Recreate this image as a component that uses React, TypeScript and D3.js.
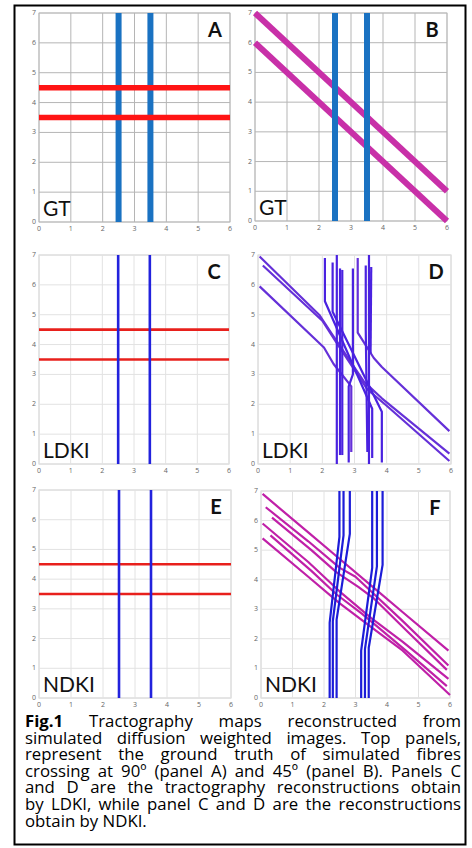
import React, { useEffect, useRef } from "react";
import * as d3 from "d3";

const W = 472;
const H = 848;

const xTicks = [0, 1, 2, 3, 4, 5, 6];
const yTicks = [0, 1, 2, 3, 4, 5, 6, 7];

type Pt = [number, number];

// Panel A – ground truth 90°
const gtVerticalA: Pt[][] = [
  [[2.5, 0], [2.5, 7]],
  [[3.5, 0], [3.5, 7]],
];
const gtHorizontalA: Pt[][] = [
  [[0, 4.5], [6, 4.5]],
  [[0, 3.5], [6, 3.5]],
];
// Panel B – ground truth 45°
const gtDiagonalB: Pt[][] = [
  [[0, 7], [6, 1]],
  [[0, 6], [6, 0]],
];
const gtVerticalB: Pt[][] = [
  [[2.5, 0], [2.5, 7]],
  [[3.5, 0], [3.5, 7]],
];
// Panel C – LDKI 90°
const ldkiHorizontalC: Pt[][] = [
  [[0, 4.5], [6, 4.5]],
  [[0, 3.5], [6, 3.5]],
];
const ldkiVerticalC: Pt[][] = [
  [[2.5, 0], [2.5, 7]],
  [[3.5, 0], [3.5, 7]],
];
// Panel D – LDKI 45°
const ldkiDiagonalD: Pt[][] = [
  [[0.05, 6.95], [1.9, 5.0], [2.3, 4.35], [3.3, 2.75], [3.85, 2.2], [5.95, 0.35]],
  [[0.15, 6.65], [2.0, 4.8], [2.45, 4.05], [3.4, 2.5], [4.0, 1.95], [5.95, 0.1]],
  [[0.05, 5.95], [2.05, 3.9], [2.35, 3.35], [2.9, 2.6], [2.9, 0.4]],
  [[3.1, 6.9], [3.1, 4.4], [3.6, 3.55], [3.85, 3.25], [5.95, 1.1]],
];
const ldkiVerticalD: Pt[][] = [
  [[2.08, 6.9], [2.08, 5.45], [3.55, 1.85], [3.55, 0.2]],
  [[2.32, 6.75], [2.32, 5.1], [3.85, 1.75], [3.85, 0.05]],
  [[2.45, 7.0], [2.45, 0.0]],
  [[2.55, 6.55], [2.55, 0.3]],
  [[2.62, 6.5], [2.62, 0.3]],
  [[2.95, 6.55], [2.95, 3.0], [2.82, 2.6], [2.82, 0.05]],
  [[3.35, 6.65], [3.35, 4.5], [3.4, 0.4]],
  [[3.45, 7.0], [3.45, 0.0]],
  [[3.52, 6.6], [3.5, 3.7]],
];
// Panel E – NDKI 90°
const ndkiHorizontalE: Pt[][] = [
  [[0, 4.5], [6, 4.5]],
  [[0, 3.5], [6, 3.5]],
];
const ndkiVerticalE: Pt[][] = [
  [[2.5, 0], [2.5, 7]],
  [[3.5, 0], [3.5, 7]],
];
// Panel F – NDKI 45°
const ndkiDiagonalF: Pt[][] = [
  [[0.05, 6.9], [1.5, 5.6], [2.5, 4.7], [3.5, 3.8], [4.5, 2.9], [5.95, 1.6]],
  [[0.15, 6.45], [1.5, 5.3], [2.5, 4.4], [3.0, 4.1], [3.5, 3.6], [4.5, 2.6], [5.95, 1.1]],
  [[0.35, 6.1], [1.6, 5.0], [2.4, 4.25], [3.1, 3.75], [3.6, 3.35], [4.6, 2.3], [5.9, 0.95]],
  [[0.05, 5.9], [1.5, 4.6], [2.5, 3.6], [3.5, 2.7], [4.5, 1.9], [5.95, 0.65]],
  [[0.3, 5.5], [1.6, 4.3], [2.4, 3.5], [3.2, 2.85], [3.6, 2.5], [4.6, 1.6], [5.9, 0.4]],
  [[0.05, 5.4], [1.5, 4.1], [2.5, 3.2], [3.5, 2.4], [4.5, 1.6], [6.0, 0.1]],
];
const ndkiVerticalF: Pt[][] = [
  [[2.49, 7], [2.49, 5.45], [2.18, 2.55], [2.18, 0]],
  [[2.62, 7], [2.62, 5.5], [2.28, 2.6], [2.28, 0]],
  [[2.82, 7], [2.82, 5.55], [2.4, 2.65], [2.4, 0]],
  [[3.53, 7], [3.53, 4.4], [3.18, 1.6], [3.18, 0]],
  [[3.68, 7], [3.68, 4.45], [3.3, 1.65], [3.3, 0]],
  [[3.86, 7], [3.86, 4.5], [3.42, 1.7], [3.42, 0]],
];

const captionBold = "Fig.1";
const captionLines = [
  " Tractography maps reconstructed from",
  "simulated diffusion weighted images. Top panels,",
  "represent the ground truth of simulated fibres",
  "crossing at 90º (panel A) and 45º (panel B). Panels C",
  "and D are the tractography reconstructions obtain",
  "by LDKI, while panel C and D are the reconstructions",
  "obtain by NDKI.",
];

type Series = { lines: Pt[][]; color: string; width: number };
type Frame = { x0: number; x1: number; yT: number; yB: number };

const FONT = "'Open Sans', 'Noto Sans', sans-serif";
const LBL_FONT = "Lato, 'Open Sans', sans-serif";
const CAP_FONT = "'Open Sans', 'Noto Sans', sans-serif";

function Panel({
  f,
  grid,
  series,
  letter,
  method,
}: {
  f: Frame;
  grid: string;
  series: Series[];
  letter: string;
  method: string;
}) {
  const x = d3.scaleLinear().domain([0, 6]).range([f.x0, f.x1]);
  const y = d3.scaleLinear().domain([0, 7]).range([f.yB, f.yT]);
  const line = d3
    .line<Pt>()
    .x((d) => x(d[0]))
    .y((d) => y(d[1]));
  return (
    <g>
      <rect x={f.x0} y={f.yT} width={f.x1 - f.x0} height={f.yB - f.yT} fill="#fff" stroke="#cfcfcf" strokeWidth={1} />
      {xTicks.map((t) => (
        <line key={"gx" + t} x1={x(t)} x2={x(t)} y1={f.yT} y2={f.yB} stroke={grid} strokeWidth={1} />
      ))}
      {yTicks.map((t) => (
        <line key={"gy" + t} x1={f.x0} x2={f.x1} y1={y(t)} y2={y(t)} stroke={grid} strokeWidth={1} />
      ))}
      {xTicks.map((t) => (
        <text key={"tx" + t} x={x(t)} y={f.yB + 9} fontSize={7} fill="#666" textAnchor="middle" fontFamily={FONT}>
          {t}
        </text>
      ))}
      {yTicks.map((t) => (
        <text key={"ty" + t} x={f.x0 - 3} y={y(t) + 2} fontSize={7} fill="#666" textAnchor="end" fontFamily={FONT}>
          {t}
        </text>
      ))}
      {series.map((s, i) =>
        s.lines.map((l, j) => (
          <path
            key={i + "-" + j}
            d={line(l) || ""}
            fill="none"
            stroke={s.color}
            strokeWidth={s.width}
            strokeLinejoin="round"
          />
        ))
      )}
      <text x={f.x1 - 15} y={f.yT + 24} fontSize={20} fontWeight="bold" textAnchor="middle" fontFamily={LBL_FONT} fill="#111">
        {letter}
      </text>
      <text x={f.x0 + 4} y={f.yB - 6} fontSize={21} fontFamily={LBL_FONT} fill="#111">
        {method}
      </text>
    </g>
  );
}

function Caption() {
  const left = 25;
  const right = 461;
  const top = 727;
  const lh = 16.6;
  const size = 16.8;
  const boldRef = useRef<SVGTextElement | null>(null);
  const refs = useRef<(SVGTextElement | null)[]>([]);
  useEffect(() => {
    const justify = () => {
      const boldLen = boldRef.current ? boldRef.current.getComputedTextLength() : 0;
      refs.current.forEach((el, i) => {
        if (!el) return;
        if (i === captionLines.length - 1) return;
        el.setAttribute("word-spacing", "0");
        const start = i === 0 ? left + boldLen : left;
        el.setAttribute("x", String(start));
        const len = el.getComputedTextLength();
        const nSpaces = captionLines[i].split(" ").length - 1;
        if (nSpaces > 0) el.setAttribute("word-spacing", String((right - start - len) / nSpaces));
      });
    };
    justify();
    if ((document as any).fonts && (document as any).fonts.ready) {
      (document as any).fonts.ready.then(justify);
    }
    const t = setTimeout(justify, 100);
    return () => clearTimeout(t);
  }, []);
  return (
    <g>
      <text ref={boldRef} x={left} y={top} fontSize={size} fontFamily={CAP_FONT} fontWeight="bold" fill="#000">
        {captionBold}
      </text>
      {captionLines.map((line, li) => (
        <text
          key={li}
          ref={(el) => {
            refs.current[li] = el;
          }}
          x={li === 0 ? left + 46 : left}
          y={top + li * lh}
          fontSize={size}
          fontFamily={CAP_FONT}
          fontWeight={500}
          fill="#000"
          style={{ whiteSpace: "pre" }}
        >
          {line}
        </text>
      ))}
    </g>
  );
}

export default function App() {
  const A: Frame = { x0: 39, x1: 230, yT: 13, yB: 222 };
  const B: Frame = { x0: 255, x1: 447, yT: 13, yB: 221 };
  const C: Frame = { x0: 39, x1: 229, yT: 255, yB: 464 };
  const D: Frame = { x0: 258, x1: 451, yT: 255, yB: 464 };
  const E: Frame = { x0: 39, x1: 231, yT: 490, yB: 698 };
  const F: Frame = { x0: 261, x1: 450, yT: 491, yB: 698 };
  return (
    <svg width={W} height={H} style={{ position: "absolute", left: 0, top: 0, background: "#fff" }}>
      <rect x={0} y={0} width={W} height={H} fill="#fff" />
      <rect x={14.5} y={5.5} width={451} height={839} fill="none" stroke="#000" strokeWidth={2} />
      <Panel
        f={A}
        grid="#b5b5b5"
        letter="A"
        method="GT"
        series={[
          { lines: gtVerticalA, color: "#1a72c2", width: 6 },
          { lines: gtHorizontalA, color: "#ff1414", width: 5.5 },
        ]}
      />
      <Panel
        f={B}
        grid="#b5b5b5"
        letter="B"
        method="GT"
        series={[
          { lines: gtDiagonalB, color: "#c830a8", width: 6 },
          { lines: gtVerticalB, color: "#1a72c2", width: 6 },
        ]}
      />
      <Panel
        f={C}
        grid="#e2e2e2"
        letter="C"
        method="LDKI"
        series={[
          { lines: ldkiHorizontalC, color: "#e8201c", width: 2.6 },
          { lines: ldkiVerticalC, color: "#2222dd", width: 2.6 },
        ]}
      />
      <Panel
        f={D}
        grid="#e2e2e2"
        letter="D"
        method="LDKI"
        series={[
          { lines: ldkiDiagonalD, color: "#6530d8", width: 2.2 },
          { lines: ldkiVerticalD, color: "#4a22e0", width: 2.2 },
        ]}
      />
      <Panel
        f={E}
        grid="#e2e2e2"
        letter="E"
        method="NDKI"
        series={[
          { lines: ndkiHorizontalE, color: "#e8201c", width: 2.6 },
          { lines: ndkiVerticalE, color: "#2222dd", width: 2.6 },
        ]}
      />
      <Panel
        f={F}
        grid="#e2e2e2"
        letter="F"
        method="NDKI"
        series={[
          { lines: ndkiDiagonalF, color: "#c020a8", width: 2.2 },
          { lines: ndkiVerticalF, color: "#1c1cd8", width: 2.2 },
        ]}
      />
      <Caption />
    </svg>
  );
}
